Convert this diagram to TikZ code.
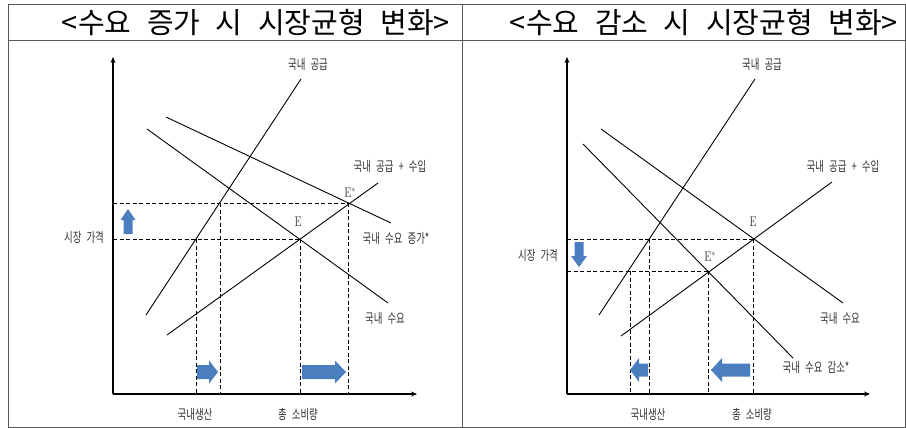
\documentclass[tikz,border=0pt]{standalone}
\usepackage{fontspec}
\usepackage{graphicx}
\usetikzlibrary{arrows.meta}
\newfontfamily\kor{Noto Sans CJK KR}
\newfontfamily\kortitle[WordSpace=2.4]{Noto Sans CJK KR}
\definecolor{arrblue}{RGB}{74,126,190}
\newcommand{\lbl}[1]{\scalebox{0.7}[1]{\kor\fontsize{13.5}{14}\selectfont #1}}
\newcommand{\eqlbl}[1]{\scalebox{0.75}[1]{\fontsize{14}{14}\selectfont #1}}

\begin{document}
\begin{tikzpicture}[x=1pt, y=-1pt,
  frame/.style={draw=black!65, line width=1pt},
  axis/.style={line width=1.7pt, -{Stealth[length=6pt,width=5pt]}},
  curve/.style={line width=0.9pt},
  guide/.style={dash pattern=on 4pt off 2.5pt, line width=0.9pt},
  lab/.style={inner sep=0pt, text=black!80},
  ttl/.style={inner sep=0pt, font=\kortitle\fontsize{29}{31}\selectfont},
  pics/blockarr/.style n args={4}{code={%
    \fill[arrblue] (0,-#2) -- ({#1-#4},-#2) -- ({#1-#4},-#3) -- (#1,0)
      -- ({#1-#4},#3) -- ({#1-#4},#2) -- (0,#2) -- cycle;}}]
\useasboundingbox (0,0) rectangle (906,428);
% table frame
\draw[frame] (8,5) rectangle (905,427);
\draw[frame] (8,41) -- (905,41);
\draw[frame] (462,5) -- (462,427);
\node[ttl] (ttlL) at (256,23) {<수요 증가 시 시장균형 변화>};
\node[ttl] (ttlR) at (704,23) {<수요 감소 시 시장균형 변화>};

% ---- left panel: demand increase ----
\coordinate (lO) at (113,394);
\draw[axis] (lO) -- (113,57);
\draw[axis] (lO) -- (417,394);
\coordinate (lS1) at (146,315);  \coordinate (lS2) at (301,79);
\coordinate (lD1) at (147,129);  \coordinate (lD2) at (388,303);
\coordinate (lN1) at (166,117);  \coordinate (lN2) at (391,223);
\coordinate (lM1) at (167,335);  \coordinate (lM2) at (378,183);
\coordinate (lE) at (300,239);   \coordinate (lEs) at (348,203);
\coordinate (lP1) at (196,239);  \coordinate (lP2) at (220,203);
\draw[curve] (lS1) -- (lS2);
\draw[curve] (lD1) -- (lD2);
\draw[curve] (lN1) -- (lN2);
\draw[curve] (lM1) -- (lM2);
\draw[guide] (lO |- lE) -- (lE);
\draw[guide] (lO |- lEs) -- (lEs);
\foreach \p in {lP1,lP2,lE,lEs} \draw[guide] (\p) -- (\p |- lO);
\node[lab] (lSl) at (308,64) {\lbl{국내 공급}};
\node[lab] (lMl) at (390,166) {\lbl{국내 공급 + 수입}};
\node[lab] (lNl) at (396,238) {\lbl{국내 수요 증가*}};
\node[lab] (lDl) at (385,318) {\lbl{국내 수요}};
\node[lab] (lPl) at (84,237) {\lbl{시장 가격}};
\node[lab] (lQd) at (195,414) {\lbl{국내생산}};
\node[lab] (lQt) at (298,414) {\lbl{총 소비량}};
\node[lab] (lEl) at (298,222) {\eqlbl{E}};
\node[lab] (lEsl) at (350,193) {\eqlbl{E$^{*}$}};
\pic[rotate=90] at (128,234) {blockarr={25}{4.5}{7.5}{11}};
\pic at (197,372) {blockarr={21}{7}{11.5}{9}};
\pic at (302,372) {blockarr={44}{7}{11.5}{11}};

% ---- right panel: demand decrease ----
\coordinate (rO) at (567,394);
\draw[axis] (rO) -- (567,57);
\draw[axis] (rO) -- (870,394);
\coordinate (rS1) at (599,315);  \coordinate (rS2) at (755,79);
\coordinate (rD1) at (601,129);  \coordinate (rD2) at (843,303);
\coordinate (rN1) at (583,144);  \coordinate (rN2) at (793,358);
\coordinate (rM1) at (621,336);  \coordinate (rM2) at (832,182);
\coordinate (rE) at (753,239);   \coordinate (rEs) at (708,271);
\coordinate (rP1) at (649,239);  \coordinate (rP2) at (630,271);
\draw[curve] (rS1) -- (rS2);
\draw[curve] (rD1) -- (rD2);
\draw[curve] (rN1) -- (rN2);
\draw[curve] (rM1) -- (rM2);
\draw[guide] (rO |- rE) -- (rE);
\draw[guide] (rO |- rEs) -- (rEs);
\foreach \p in {rP1,rP2,rE,rEs} \draw[guide] (\p) -- (\p |- rO);
\node[lab] (rSl) at (762,64) {\lbl{국내 공급}};
\node[lab] (rMl) at (843,166) {\lbl{국내 공급 + 수입}};
\node[lab] (rDl) at (840,318) {\lbl{국내 수요}};
\node[lab] (rNl) at (816,367) {\lbl{국내 수요 감소*}};
\node[lab] (rPl) at (538,255) {\lbl{시장 가격}};
\node[lab] (rQd) at (648,414) {\lbl{국내생산}};
\node[lab] (rQt) at (752,414) {\lbl{총 소비량}};
\node[lab] (rEl) at (753,222) {\eqlbl{E}};
\node[lab] (rEsl) at (710,257) {\eqlbl{E$^{*}$}};
\pic[rotate=-90] at (579,242) {blockarr={25}{4.5}{8}{11}};
\pic[rotate=180] at (648,370) {blockarr={18}{6.5}{12}{9}};
\pic[rotate=180] at (750,370) {blockarr={39}{6.5}{12}{11}};
\end{tikzpicture}
\end{document}
